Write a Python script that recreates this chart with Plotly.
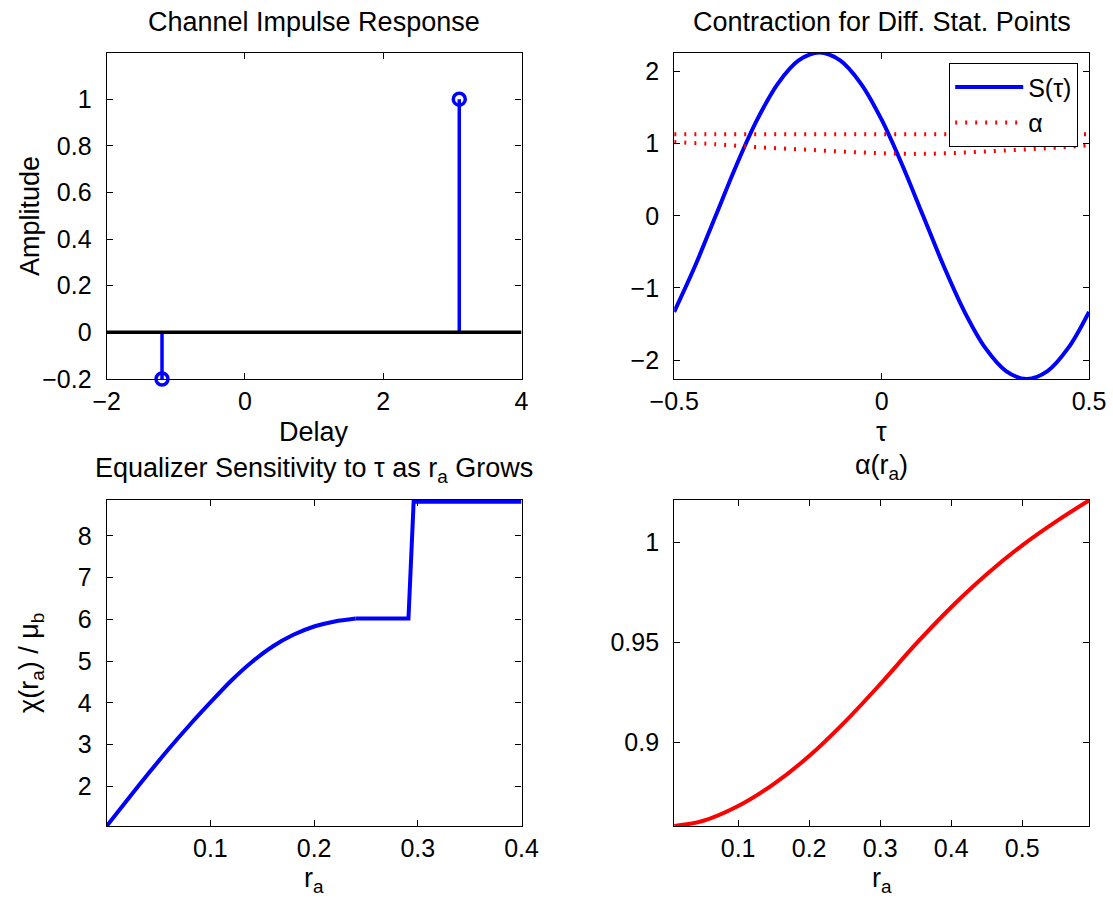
import plotly.graph_objects as go

# ---------------- data ----------------
# Channel impulse response (stem plot)
stem_delay = [-1.2, 3.1]
stem_amp = [-0.2, 1.0]
baseline_x = [-2, 4]
baseline_y = [0, 0]

# Contraction for Diff. Stat. Points
tau = [-0.5, -0.45, -0.4, -0.35, -0.3, -0.25, -0.2, -0.15, -0.1, -0.05, 0.0,
       0.05, 0.1, 0.15, 0.2, 0.25, 0.3, 0.35, 0.4, 0.45, 0.5]
S_tau = [-1.33, -0.70, 0.0, 0.70, 1.33, 1.83, 2.15, 2.26, 2.15, 1.83, 1.33,
         0.70, 0.0, -0.70, -1.33, -1.83, -2.15, -2.26, -2.15, -1.83, -1.33]
tau_alpha = [-0.5, -0.4, -0.3, -0.2, -0.1, 0.0, 0.1, 0.2, 0.3, 0.4, 0.5]
alpha_upper = [1.13, 1.13, 1.13, 1.13, 1.13, 1.13, 1.13, 1.13, 1.13, 1.13, 1.13]
alpha_lower = [1.02, 0.99, 0.95, 0.92, 0.89, 0.865, 0.857, 0.875, 0.905, 0.935, 0.975]

# Equalizer sensitivity chi(r_a)/mu_b
r_chi = [0.0, 0.02, 0.04, 0.06, 0.08, 0.10, 0.12, 0.14, 0.16, 0.18, 0.20, 0.22,
         0.24, 0.291, 0.296, 0.4]
chi = [1.05, 1.68, 2.30, 2.90, 3.47, 4.01, 4.53, 4.98, 5.35, 5.63, 5.83, 5.95,
       6.02, 6.02, 8.82, 8.82]
chi_plateau_start = 12  # index where the curve meets the flat part

# alpha(r_a)
r_alpha = [0.01, 0.05, 0.1, 0.15, 0.2, 0.25, 0.3, 0.35, 0.4, 0.45, 0.5, 0.55, 0.594]
alpha_r = [0.858, 0.8605, 0.868, 0.879, 0.893, 0.910, 0.929, 0.949, 0.9675,
           0.984, 0.9985, 1.011, 1.021]

# tick labels
tl_x_ticks = [-2, 0, 2, 4]
tl_y_ticks = [-0.2, 0, 0.2, 0.4, 0.6, 0.8, 1]
tr_x_ticks = [-0.5, 0, 0.5]
tr_y_ticks = [-2, -1, 0, 1, 2]
bl_x_ticks = [0.1, 0.2, 0.3, 0.4]
bl_y_ticks = [2, 3, 4, 5, 6, 7, 8]
br_x_ticks = [0.1, 0.2, 0.3, 0.4, 0.5]
br_y_ticks = [0.9, 0.95, 1]
br_y_labels = ["0.9", "0.95", "1"]

# ---------------- figure ----------------
W, H = 1113, 903
FONT = "Liberation Sans, Arial, Helvetica, sans-serif"
FS_TICK = 25
FS_LBL = 27
BLUE = "#0000ff"
RED = "#ff0000"

def px(x):
    return x / W

def py(y):
    return 1 - y / H

fig = go.Figure()

# stems (vertical lines built from data)
stem_x, stem_y = [], []
for d, a in zip(stem_delay, stem_amp):
    stem_x += [d, d, None]
    stem_y += [0, a, None]
fig.add_trace(go.Scatter(x=stem_x, y=stem_y, mode="lines",
                         line=dict(color=BLUE, width=3.5), showlegend=False,
                         xaxis="x", yaxis="y", cliponaxis=False))
fig.add_trace(go.Scatter(x=baseline_x, y=baseline_y, mode="lines",
                         line=dict(color="black", width=3.5), showlegend=False,
                         xaxis="x", yaxis="y"))
fig.add_trace(go.Scatter(x=stem_delay, y=stem_amp, mode="markers",
                         marker=dict(symbol="circle-open", size=12, color=BLUE,
                                     line=dict(color=BLUE, width=3.5)),
                         showlegend=False, xaxis="x", yaxis="y", cliponaxis=False))

# contraction plot
fig.add_trace(go.Scatter(x=tau, y=S_tau, mode="lines", name="S(τ)",
                         line=dict(color=BLUE, width=4, shape="spline"),
                         xaxis="x2", yaxis="y2", cliponaxis=False))
fig.add_trace(go.Scatter(x=tau_alpha, y=alpha_upper, mode="lines", name="α",
                         line=dict(color=RED, width=4, dash="2px,8px", shape="spline"),
                         xaxis="x2", yaxis="y2"))
fig.add_trace(go.Scatter(x=tau_alpha, y=alpha_lower, mode="lines", name="α",
                         line=dict(color=RED, width=4, dash="2px,8px", shape="spline"),
                         showlegend=False, xaxis="x2", yaxis="y2"))

# equalizer sensitivity: smooth rise, then plateau and jump
k = chi_plateau_start
fig.add_trace(go.Scatter(x=r_chi[:k + 1], y=chi[:k + 1], mode="lines",
                         line=dict(color=BLUE, width=4, shape="spline", smoothing=0.8),
                         showlegend=False, xaxis="x3", yaxis="y3", cliponaxis=False))
fig.add_trace(go.Scatter(x=r_chi[k:], y=chi[k:], mode="lines",
                         line=dict(color=BLUE, width=4), showlegend=False,
                         xaxis="x3", yaxis="y3", cliponaxis=False))

# alpha(r_a)
fig.add_trace(go.Scatter(x=r_alpha, y=alpha_r, mode="lines",
                         line=dict(color=RED, width=4, shape="spline"), showlegend=False,
                         xaxis="x4", yaxis="y4", cliponaxis=False))

xl, xr = px(106.7), px(521.5)
xl2, xr2 = px(674.2), px(1089)
yt_top, yt_bot = py(52.5), py(379)
yb_top, yb_bot = py(500), py(826)

ax_common = dict(showline=True, linecolor="black", linewidth=1.2, mirror="ticks",
                 ticks="inside", ticklen=6, tickcolor="black", tickwidth=1,
                 showgrid=False, zeroline=False, automargin=False,
                 tickfont=dict(family=FONT, size=FS_TICK, color="black"))
XSO = 0
YSO = 9

fig.update_layout(
    width=W, height=H,
    margin=dict(l=0, r=0, t=0, b=0, autoexpand=False),
    paper_bgcolor="white", plot_bgcolor="white",
    font=dict(family=FONT, size=FS_TICK, color="black"),
    xaxis=dict(domain=[xl, xr], range=[-2, 4], tickvals=tl_x_ticks, anchor="y",
               ticklabelstandoff=XSO, **ax_common),
    yaxis=dict(domain=[yt_bot, yt_top], range=[-0.2, 1.2], tickvals=tl_y_ticks, anchor="x",
               ticklabelstandoff=YSO, **ax_common),
    xaxis2=dict(domain=[xl2, xr2], range=[-0.5, 0.5], tickvals=tr_x_ticks, anchor="y2",
                ticklabelstandoff=XSO, **ax_common),
    yaxis2=dict(domain=[yt_bot, yt_top], range=[-2.26, 2.26], tickvals=tr_y_ticks, anchor="x2",
                ticklabelstandoff=YSO, **ax_common),
    xaxis3=dict(domain=[xl, xr], range=[0, 0.4], tickvals=bl_x_ticks, anchor="y3",
                ticklabelstandoff=XSO, **ax_common),
    yaxis3=dict(domain=[yb_bot, yb_top], range=[1.05, 8.86], tickvals=bl_y_ticks, anchor="x3",
                ticklabelstandoff=YSO, **ax_common),
    xaxis4=dict(domain=[xl2, xr2], range=[0.01, 0.594], tickvals=br_x_ticks, anchor="y4",
                ticklabelstandoff=XSO, **ax_common),
    yaxis4=dict(domain=[yb_bot, yb_top], range=[0.858, 1.0212], tickvals=br_y_ticks,
                ticktext=br_y_labels, anchor="x4", ticklabelstandoff=YSO, **ax_common),
    legend=dict(x=px(1078), y=py(63), xanchor="right", yanchor="top",
                bordercolor="black", borderwidth=1.2, bgcolor="white",
                font=dict(family=FONT, size=25, color="black"),
                itemwidth=68, tracegroupgap=0),
)

def ann(text, x, y, angle=0):
    fig.add_annotation(text=text, x=px(x), y=py(y), xref="paper", yref="paper",
                       showarrow=False, xanchor="center", yanchor="middle",
                       textangle=angle, font=dict(family=FONT, size=FS_LBL, color="black"))

cx1 = (106.7 + 521.5) / 2
cx2 = (674.2 + 1089) / 2
ann("Channel Impulse Response", cx1, 22)
ann("Contraction for Diff. Stat. Points", cx2, 22)
ann("Delay", cx1, 432)
ann("Amplitude", 30, 216, -90)
ann("τ", cx2, 432)
ann("α(r<sub>a</sub>)", cx2, 467)
ann("Equalizer Sensitivity to τ as r<sub>a</sub> Grows", cx1, 470)
ann("χ(r<sub>a</sub>) / μ<sub>b</sub>", 31, 663, -90)
ann("r<sub>a</sub>", cx1, 880)
ann("r<sub>a</sub>", cx2, 880)

fig.write_html("out.html")
